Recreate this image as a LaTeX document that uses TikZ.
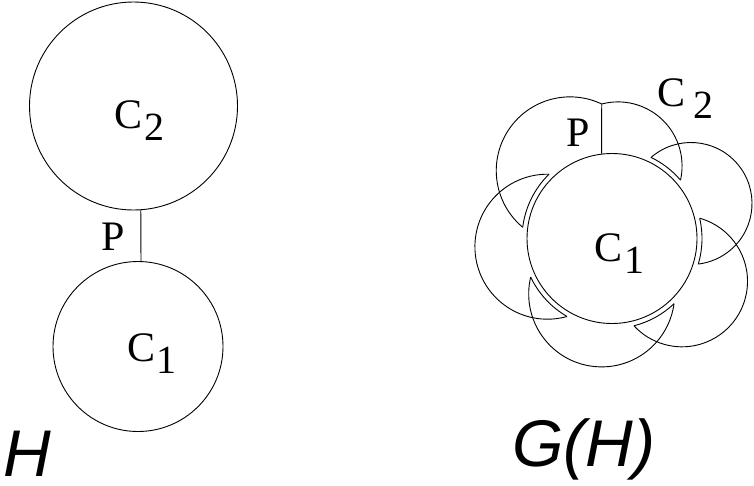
\documentclass[tikz,border=0pt]{standalone}
\usepackage{fontspec}
\setmainfont{Liberation Serif}
\newfontfamily\labsans{Liberation Sans}
\newcommand\clab[2]{C\kern#1pt\raisebox{-12pt}{\fontsize{40}{42}\selectfont #2}}
\begin{document}
\begin{tikzpicture}[x=1pt,y=-1pt,line width=0.9pt,
  ringnode/.style={draw,circle,inner sep=0pt,minimum size=#1},
  lab/.style={font=\fontsize{42}{46}\selectfont,anchor=base west,inner sep=0pt},
  biglab/.style={font=\labsans\itshape\fontsize{66}{70}\selectfont,anchor=base west,inner sep=0pt},
  petal/.style={line width=0.9pt}]
\useasboundingbox (0,0) rectangle (754,485);

% ---------- H ----------
\node[ringnode=208pt] (C2) at (133.5,106) {};
\node[ringnode=170pt] (C1) at (138,346.5) {};
\draw (C2.-86.4) -- (C1.88.7);
\node[lab] (lc2) at (114,128) {\clab{2}{2}};
\node[lab] (lc1) at (127,361.5) {\clab{1}{1}};
\node[lab] (lp) at (101,250) {P};
\node[biglab] (lH) at (3,476.7) {H};

% ---------- G(H) ----------
\node[ringnode=170pt] (D1) at (612,238.5) {};
\coordinate (cusp) at (601.7,104);
\draw (D1.97) -- (cusp);

% petals (arcs of circles, image coords with y downwards)
\draw[petal] (cusp) arc[start angle=-104.7, end angle=12.7, radius=64.1];
\draw[petal] ([shift={(-131.0:61)}]691,203.5) arc[start angle=-131.0, end angle=83.1, radius=61];
\draw[petal] ([shift={(-74.3:65.5)}]682,281.3) arc[start angle=-74.3, end angle=137.3, radius=65.5];
\draw[petal] ([shift={(193.4:73)}]601.7,293.9) arc[start angle=193.4, end angle=7.7, radius=73];
\draw[petal] ([shift={(271.3:72.5)}]547.4,246.7) arc[start angle=271.3, end angle=74.3, radius=72.5];
\draw[petal] (cusp) arc[start angle=-64.6, end angle=-230.2, radius=73.8];

% inner ring arcs of the crescents
\draw[petal] ([shift={(-64.4:90)}]612,238.5) arc[start angle=-64.4, end angle=-40.4, radius=90];
\draw[petal] ([shift={(-13.0:90)}]612,238.5) arc[start angle=-13.0, end angle=16.5, radius=90];
\draw[petal] ([shift={(46.4:90)}]612,238.5) arc[start angle=46.4, end angle=75.9, radius=90];
\draw[petal] ([shift={(120.0:90)}]612,238.5) arc[start angle=120.0, end angle=154.7, radius=90];
\draw[petal] ([shift={(187.2:90)}]612,238.5) arc[start angle=187.2, end angle=225.6, radius=90];

\node[lab] (rp) at (566,146.5) {P};
\node[lab] (rc1) at (594,261) {\clab{2}{1}};
\node[lab] (rc2) at (657,106) {\clab{8}{2}};
\node[biglab] (lGH) at (512,466.5) {G(H)};
\end{tikzpicture}
\end{document}
